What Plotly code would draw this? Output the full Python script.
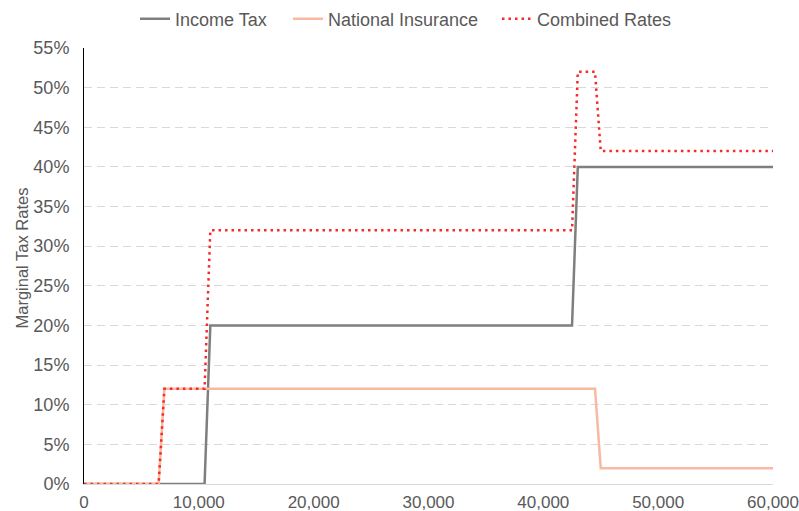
import plotly.graph_objects as go

income_levels = [0, 6500, 7000, 10500, 11000, 42500, 43000, 44500, 45000, 60000]
income_tax = [0, 0, 0, 0, 20, 20, 40, 40, 40, 40]
national_insurance = [0, 0, 12, 12, 12, 12, 12, 12, 2, 2]
combined_rates = [0, 0, 12, 12, 32, 32, 52, 52, 42, 42]
x_ticks = [0, 10000, 20000, 30000, 40000, 50000, 60000]
y_ticks = list(range(0, 56, 5))

W, H = 799, 511
fig = go.Figure()
fig.add_trace(go.Scatter(x=income_levels, y=income_tax, mode="lines", name="Income Tax",
                         line=dict(color="#7F7F7F", width=2.5), legend="legend"))
fig.add_trace(go.Scatter(x=income_levels, y=national_insurance, mode="lines", name="National Insurance",
                         line=dict(color="#F8B9A0", width=2.5), legend="legend2"))
fig.add_trace(go.Scatter(x=income_levels, y=combined_rates, mode="lines", name="Combined Rates",
                         line=dict(color="#F52A2A", width=2.5, dash="2.5px,4px"), legend="legend3"))

font_color = "#595959"
family = "Liberation Sans, Arial, sans-serif"


def leg(px):
    return dict(orientation="h", x=px / W, xanchor="left", xref="container",
                y=1 - 19 / H, yanchor="middle", yref="container",
                font=dict(size=18, color=font_color), itemwidth=30, bgcolor="rgba(0,0,0,0)")


fig.update_layout(
    width=W, height=H,
    margin=dict(l=84, r=26, t=48, b=27, autoexpand=False),
    plot_bgcolor="white", paper_bgcolor="white",
    font=dict(family=family, size=18, color=font_color),
    legend=leg(135), legend2=leg(288), legend3=leg(497),
    showlegend=True,
)
fig.add_annotation(text="Marginal Tax Rates", textangle=-90, showarrow=False,
                   xref="paper", yref="paper", x=(21 - 84) / 689, y=(484 - 257.5) / 436,
                   xanchor="center", yanchor="middle",
                   font=dict(family=family, size=16.5, color=font_color))
fig.update_xaxes(range=[0, 60000], tickvals=x_ticks,
                 ticktext=[f"{v:,}" for v in x_ticks],
                 showgrid=False, zeroline=False, showline=True, linecolor="#D9D9D9", linewidth=1,
                 ticks="", ticklabelstandoff=3, automargin=False, ticklabeloverflow="allow",
                 tickfont=dict(size=17, color=font_color))
fig.update_yaxes(range=[0, 55], tickvals=y_ticks, ticktext=[f"{v}%" for v in y_ticks],
                 showgrid=True, gridcolor="#D9D9D9", griddash="8px,5px", gridwidth=1,
                 zeroline=False, showline=True, linecolor="#000000", linewidth=1,
                 ticks="", ticklabelstandoff=10, automargin=False, ticklabeloverflow="allow",
                 tickfont=dict(size=18, color=font_color))

fig.write_html("out.html", config={"displayModeBar": False},
               post_script="document.body.style.margin='0';document.body.style.padding='0';")
